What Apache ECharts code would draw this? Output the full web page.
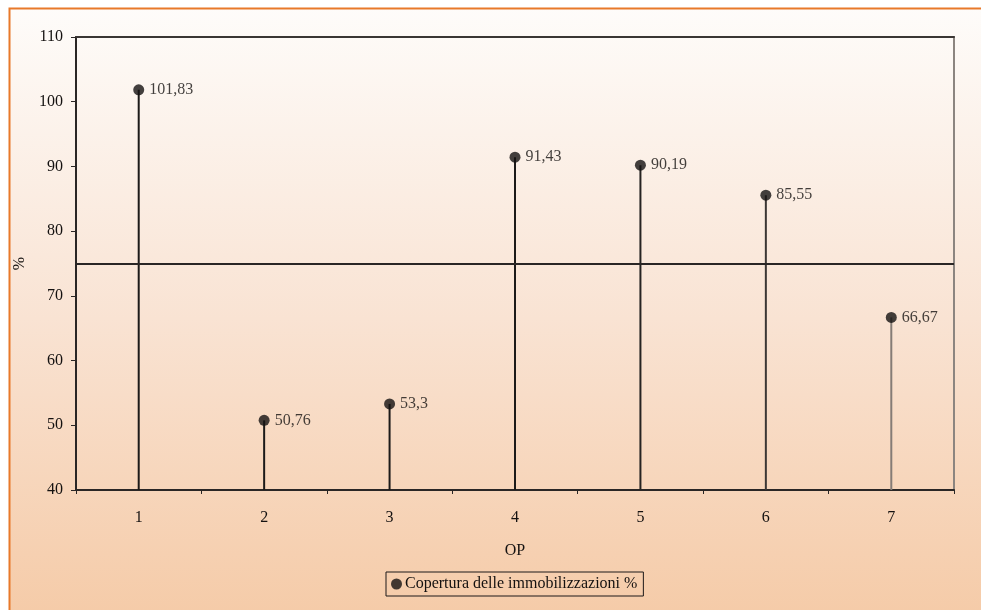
<!DOCTYPE html>
<html>
<head>
<meta charset="utf-8">
<script src="https://cdn.jsdelivr.net/npm/echarts@6/dist/echarts.min.js"></script>
<style>
  html, body { margin: 0; padding: 0; background: #ffffff; }
  #chart { width: 981px; height: 610px; }
</style>
</head>
<body>
<div id="chart"></div>
<script>
// Copertura delle immobilizzazioni per OP
const categories = ['1', '2', '3', '4', '5', '6', '7'];
const values = [101.83, 50.76, 53.3, 91.43, 90.19, 85.55, 66.67];
const stemColors = ['#1c1a19', '#1c1a19', '#1c1a19', '#1c1a19', '#262322', '#3c3735', '#857c76'];
const referenceLevel = 75;
const seriesName = 'Copertura delle immobilizzazioni %';

const FONT = '"Liberation Serif", "DejaVu Serif", serif';
const TEXT = '#141110';
const fmt = v => String(v).replace('.', ',');

const chart = echarts.init(document.getElementById('chart'), null, { renderer: 'canvas' });

chart.setOption({
  backgroundColor: '#ffffff',
  animation: false,
  textStyle: { fontFamily: FONT, color: TEXT },
  graphic: [{
    type: 'rect',
    z: -10,
    silent: true,
    shape: { x: 9.5, y: 8.5, width: 990, height: 620 },
    style: {
      fill: new echarts.graphic.LinearGradient(0, 0, 0, 1, [
        { offset: 0, color: '#fefcfa' },
        { offset: 0.5, color: '#f9e3d3' },
        { offset: 1, color: '#f5caa6' }
      ]),
      stroke: '#e8792a',
      lineWidth: 2
    }
  }],
  grid: { left: 76, top: 37, right: 27, bottom: 120, containLabel: false },
  legend: {
    left: 386,
    top: 572,
    data: [{ name: seriesName, icon: 'circle' }],
    itemWidth: 11,
    itemHeight: 11,
    itemGap: 4,
    padding: [4, 6, 4, 5],
    borderColor: '#1c1918',
    borderWidth: 1,
    borderRadius: 0,
    backgroundColor: 'transparent',
    textStyle: { fontFamily: FONT, fontSize: 16, color: TEXT, padding: [0, 0, 0, -2] }
  },
  xAxis: [{
    type: 'category',
    data: categories,
    boundaryGap: true,
    name: 'OP',
    nameLocation: 'middle',
    nameGap: 53,
    nameTextStyle: { fontFamily: FONT, fontSize: 16, color: TEXT },
    axisLine: { lineStyle: { color: '#2a2625', width: 2 } },
    axisTick: { show: true, inside: false, length: 4, alignWithLabel: false, lineStyle: { color: '#2a2625', width: 1 } },
    axisLabel: { fontFamily: FONT, fontSize: 16, color: TEXT, margin: 20 },
    splitLine: { show: false }
  }, {
    type: 'category',
    data: categories,
    position: 'top',
    axisLine: { lineStyle: { color: '#3a3634', width: 2 } },
    axisTick: { show: false },
    axisLabel: { show: false },
    splitLine: { show: false }
  }],
  yAxis: [{
    type: 'value',
    min: 40,
    max: 110,
    interval: 10,
    name: '%',
    nameLocation: 'middle',
    nameGap: 42,
    nameTextStyle: { fontFamily: FONT, fontSize: 16, color: TEXT },
    axisLine: { show: true, lineStyle: { color: '#2a2625', width: 2 } },
    axisTick: { show: true, inside: false, length: 5, lineStyle: { color: '#2a2625', width: 1 } },
    axisLabel: { fontFamily: FONT, fontSize: 16, color: TEXT, margin: 13 },
    splitLine: { show: false }
  }, {
    type: 'value',
    min: 40,
    max: 110,
    interval: 10,
    position: 'right',
    axisLine: { show: true, lineStyle: { color: '#8c8580', width: 2 } },
    axisTick: { show: false },
    axisLabel: { show: false },
    splitLine: { show: false }
  }],
  series: [{
    name: 'stem',
    type: 'bar',
    barWidth: 2,
    silent: true,
    data: values.map((v, i) => ({ value: v, itemStyle: { color: stemColors[i] } })),
    markLine: {
      silent: true,
      symbol: 'none',
      label: { show: false },
      lineStyle: { color: '#2a2625', width: 2, type: 'solid' },
      data: [{ yAxis: referenceLevel }]
    },
    z: 2
  }, {
    name: seriesName,
    type: 'scatter',
    symbol: 'circle',
    symbolSize: 11,
    itemStyle: { color: '#141211' },
    data: values,
    label: {
      show: true,
      position: 'right',
      distance: 5,
      fontFamily: FONT,
      fontSize: 16,
      color: TEXT,
      formatter: p => fmt(p.value)
    },
    z: 3
  }]
});
</script>
</body>
</html>
